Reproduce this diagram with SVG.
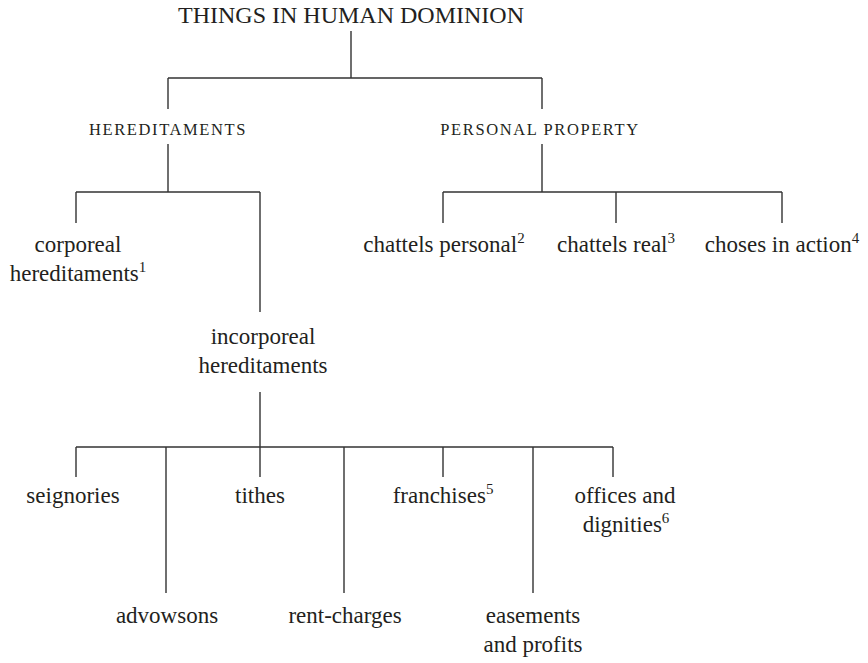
<svg xmlns="http://www.w3.org/2000/svg" width="868" height="663" viewBox="0 0 868 663">
<style>
  .t { font-family: "Liberation Serif", "Times New Roman", serif; font-size: 23px; fill: #231f20; text-anchor: middle; }
  .title { font-size: 24px; }
  .sc { font-family: "Liberation Serif", "Times New Roman", serif; font-size: 16.5px; letter-spacing: 1.6px; fill: #231f20; text-anchor: middle; }
  .sup { font-size: 15px; }
  .c path { fill: none; stroke: #333333; stroke-width: 1.4; }
</style>
<rect width="868" height="663" fill="#ffffff"/>
<g id="connectors" class="c">
  <path d="M351 31 V78 M168 78 H542 M168 78 V109 M542 78 V109"/>
  <path d="M168 144 V192 M76 192 H260 M76 192 V223 M260 192 V312"/>
  <path d="M542 144 V192 M443 192 H782 M443 192 V223 M616 192 V223 M782 192 V223"/>
  <path d="M260 392 V447 M76 447 H613 M76 447 V477 M260 447 V477 M443 447 V477 M613 447 V477 M166 447 V593 M344 447 V593 M533 447 V593"/>
</g>
<g id="root"><text class="t title" x="351" y="23">THINGS IN HUMAN DOMINION</text></g>
<g id="hereditaments"><text class="sc" x="168" y="135">HEREDITAMENTS</text></g>
<g id="personal-property"><text class="sc" x="540" y="135">PERSONAL PROPERTY</text></g>
<g id="corporeal"><text class="t" x="78" y="252">corporeal</text><text class="t" x="78" y="281">hereditaments<tspan class="sup" dy="-9">1</tspan></text></g>
<g id="incorporeal"><text class="t" x="263" y="344">incorporeal</text><text class="t" x="263" y="373">hereditaments</text></g>
<g id="chattels-personal"><text class="t" x="444" y="252">chattels personal<tspan class="sup" dy="-9">2</tspan></text></g>
<g id="chattels-real"><text class="t" x="616" y="252">chattels real<tspan class="sup" dy="-9">3</tspan></text></g>
<g id="choses-in-action"><text class="t" x="782" y="252">choses in action<tspan class="sup" dy="-9">4</tspan></text></g>
<g id="seignories"><text class="t" x="73" y="503">seignories</text></g>
<g id="advowsons"><text class="t" x="167" y="623">advowsons</text></g>
<g id="tithes"><text class="t" x="260" y="503">tithes</text></g>
<g id="rent-charges"><text class="t" x="345" y="623">rent-charges</text></g>
<g id="franchises"><text class="t" x="443" y="503">franchises<tspan class="sup" dy="-9">5</tspan></text></g>
<g id="easements"><text class="t" x="533" y="623">easements</text><text class="t" x="533" y="652">and profits</text></g>
<g id="offices"><text class="t" x="625" y="503">offices and</text><text class="t" x="626" y="532">dignities<tspan class="sup" dy="-9">6</tspan></text></g>
</svg>
